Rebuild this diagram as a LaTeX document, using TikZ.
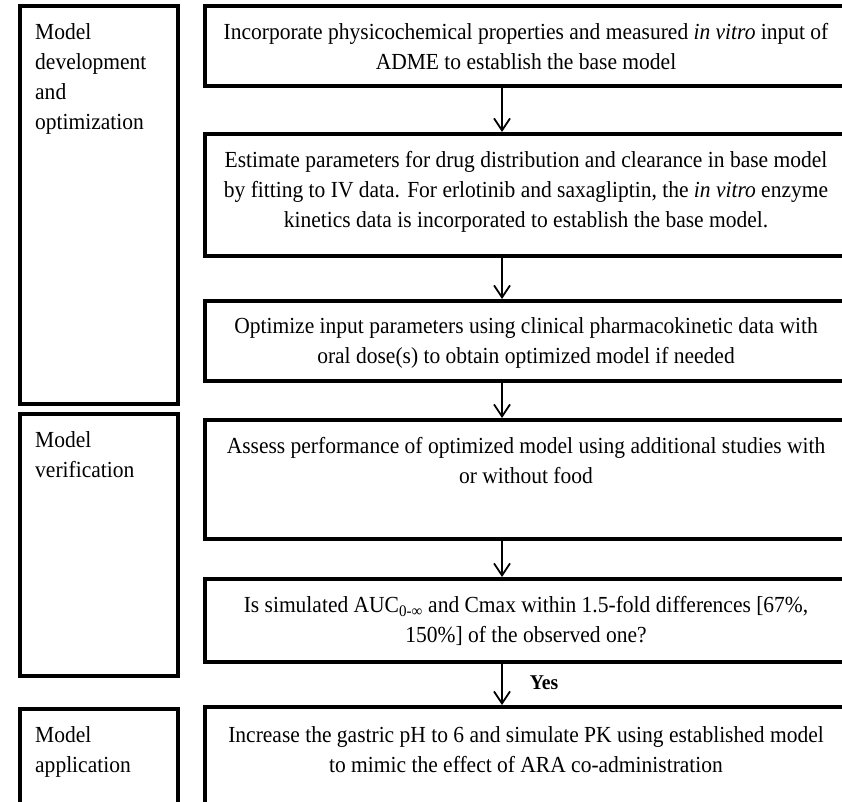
\documentclass[tikz,border=0pt]{standalone}
\usepackage{fontspec}
\setmainfont{Liberation Serif}[FakeStretch=0.935]
\usetikzlibrary{arrows.meta}
\begin{document}
\begin{tikzpicture}[x=1pt,y=-1pt,
  box/.style={draw,line width=4pt,inner sep=0pt,rectangle},
  txt/.style={inner sep=0pt,font=\fontsize{23}{30}\selectfont},
  rtxt/.style={txt,align=center,anchor=north},
  ltxt/.style={txt,align=left,anchor=north west},
  arr/.style={line width=1.8pt,-{Straight Barb[length=12pt,width=16pt,line width=1.8pt]}}]
\useasboundingbox (0,0) rectangle (842,801);
\clip (0,0) rectangle (842,801);
% left stage boxes
\node[box,minimum width=158pt,minimum height=398pt] (L1) at (99,205) {};
\node[box,minimum width=158pt,minimum height=262pt] (L2) at (99,545) {};
\node[box,minimum width=158pt,minimum height=131pt] (L3) at (99,774.5) {};
\node[ltxt] (t1) at (35,23) {Model\\development\\and\\optimization};
\node[ltxt] (t2) at (35,431) {Model\\verification};
\node[ltxt] (t3) at (35,726) {Model\\application};
% right step boxes
\node[box,minimum width=643pt,minimum height=80pt] (A) at (526.5,46) {};
\node[box,minimum width=643pt,minimum height=122pt] (B) at (526.5,195) {};
\node[box,minimum width=643pt,minimum height=80pt] (C) at (526.5,341) {};
\node[box,minimum width=643pt,minimum height=119pt] (D) at (526.5,479.5) {};
\node[box,minimum width=643pt,minimum height=83pt] (E) at (526.5,620.5) {};
\node[box,minimum width=643pt,minimum height=133pt] (F) at (526.5,773.5) {};
\node[rtxt] (ta) at (526,23) {Incorporate physicochemical properties and measured \textit{in vitro} input of\\ADME to establish the base model};
\node[rtxt] (tb) at (526,151) {Estimate parameters for drug distribution and clearance in base model\\by fitting to IV data. For erlotinib and saxagliptin, the \textit{in vitro} enzyme\\kinetics data is incorporated to establish the base model.};
\node[rtxt] (tc) at (526,317) {Optimize input parameters using clinical pharmacokinetic data with\\oral dose(s) to obtain optimized model if needed};
\node[rtxt] (td) at (526,437) {Assess performance of optimized model using additional studies with\\or without food};
\node[rtxt] (te) at (526,596) {Is simulated AUC\textsubscript{0-∞} and Cmax within 1.5-fold differences [67\%,\\150\%] of the observed one?};
\node[rtxt] (tf) at (526,726) {Increase the gastric pH to 6 and simulate PK using established model\\to mimic the effect of ARA co-administration};
% connectors
\coordinate (ax) at (502,0);
\draw[arr] (A.south -| ax) -- (B.north -| ax);
\draw[arr] (B.south -| ax) -- (C.north -| ax);
\draw[arr] (C.south -| ax) -- (D.north -| ax);
\draw[arr] (D.south -| ax) -- (E.north -| ax);
\draw[arr] (E.south -| ax) -- (F.north -| ax) node[pos=0.45,anchor=west,xshift=27pt,inner sep=0pt,font=\fontsize{21}{25}\selectfont\bfseries] (yes) {Yes};
\end{tikzpicture}
\end{document}
